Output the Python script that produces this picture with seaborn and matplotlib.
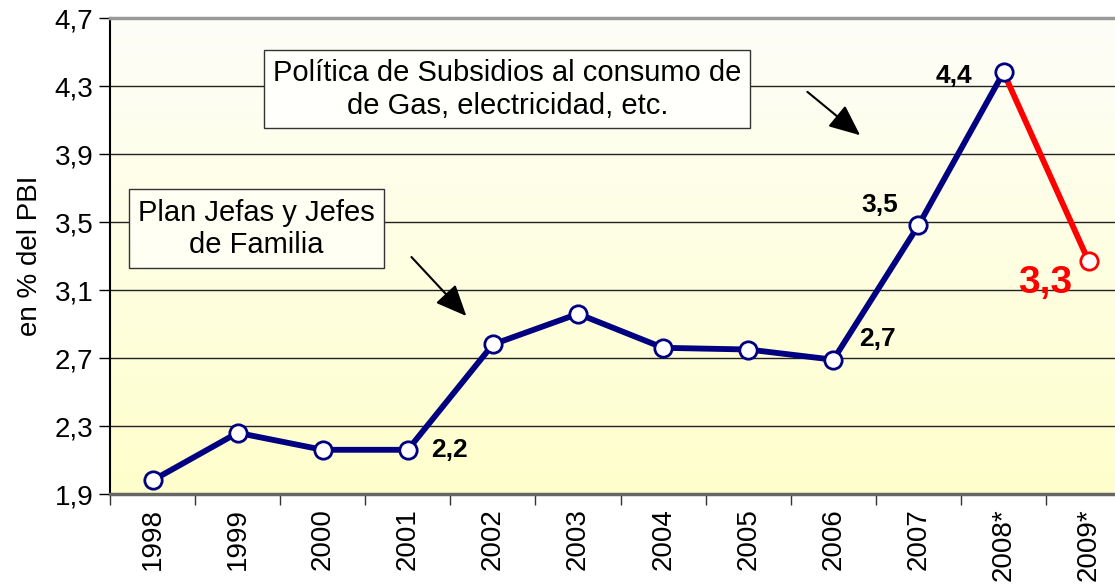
import numpy as np
import pandas as pd
import matplotlib
matplotlib.use("Agg")
import matplotlib.pyplot as plt
import seaborn as sns

# Data
years = ["1998", "1999", "2000", "2001", "2002", "2003", "2004",
         "2005", "2006", "2007", "2008*", "2009*"]
values = [1.98, 2.26, 2.16, 2.16, 2.78, 2.96, 2.76, 2.75, 2.69, 3.48, 4.38, 3.27]
y_ticks = [1.9, 2.3, 2.7, 3.1, 3.5, 3.9, 4.3, 4.7]
label_years = ["2001", "2006", "2007", "2008*", "2009*"]
label_texts = ["2,2", "2,7", "3,5", "4,4", "3,3"]

sns.set_theme(style="white")
plt.rcParams["font.family"] = ["Liberation Sans", "DejaVu Sans"]
plt.rcParams["text.color"] = "black"
plt.rcParams["axes.labelcolor"] = "black"
plt.rcParams["xtick.color"] = "black"
plt.rcParams["ytick.color"] = "black"

df = pd.DataFrame({"year": years, "value": values})
df["pos"] = np.arange(len(df))
actual = df.iloc[:11]
forecast = df.iloc[10:]

fig = plt.figure(figsize=(11.15, 5.87), dpi=100)
ax = fig.add_axes([110 / 1115, 1 - 494 / 587, 1 - 110 / 1115, (494 - 18) / 587])

# gradient background (white at top -> light yellow at bottom)
grad = np.linspace(0, 1, 256).reshape(-1, 1)
top = np.array([0.995, 0.995, 0.975])
bottom = np.array([1.0, 1.0, 0.80])
img = top + (bottom - top) * grad[:, :, None]
ax.imshow(img, extent=[0, 1, 0, 1], transform=ax.transAxes, aspect="auto", zorder=0)

ax.set_ylim(1.9, 4.7)
ax.set_xlim(-0.5, 11.31)

for yv in y_ticks[1:-1]:
    ax.axhline(yv, color="#222222", linewidth=1.0, zorder=1)

sns.lineplot(data=actual, x="pos", y="value", ax=ax, color="#000080",
             linewidth=4.2, marker="o", markersize=12.5, markerfacecolor="white",
             markeredgecolor="#000080", markeredgewidth=2.0, zorder=4)
sns.lineplot(data=forecast, x="pos", y="value", ax=ax, color="#FF0000",
             linewidth=4.2, zorder=3)
sns.lineplot(data=df.iloc[11:], x="pos", y="value", ax=ax, color="#FF0000",
             linewidth=0, marker="o", markersize=12.5, markerfacecolor="white",
             markeredgecolor="#FF0000", markeredgewidth=2.0, zorder=5)

# axes styling
ax.set_yticks(y_ticks)
ax.set_yticklabels([f"{v:.1f}".replace(".", ",") for v in y_ticks], fontsize=20)
ax.set_xticks(df["pos"])
ax.set_xticklabels(years, rotation=90, fontsize=20)
ax.set_xticks(np.arange(-0.5, 11.5, 1.0), minor=True)
ax.tick_params(axis="x", which="major", length=0, pad=10)
ax.tick_params(axis="x", which="minor", length=8, width=1, color="#333333",
               direction="out", bottom=True)
ax.tick_params(axis="y", length=8, width=1, color="black", direction="out", left=True, pad=4)
ax.set_xlabel("")
ax.set_ylabel("en % del PBI", fontsize=20, labelpad=8)

ax.spines["right"].set_visible(False)
ax.spines["left"].set_color("black")
ax.spines["left"].set_linewidth(1.5)
ax.spines["top"].set_color("#999999")
ax.spines["top"].set_linewidth(2.5)
ax.spines["bottom"].set_color("#666666")
ax.spines["bottom"].set_linewidth(2.5)

# value labels
pos_of = dict(zip(years, df["pos"]))
val_of = dict(zip(years, values))
offsets = {"2001": (0.27, 0.0, "left"),
           "2006": (0.3, 0.12, "left"),
           "2007": (-0.24, 0.12, "right"),
           "2008*": (-0.37, -0.02, "right"),
           "2009*": (-0.51, -0.13, "center")}
for yr, txt in zip(label_years, label_texts):
    dx, dy, ha = offsets[yr]
    red = yr == "2009*"
    ax.text(pos_of[yr] + dx, val_of[yr] + dy, txt, ha=ha, va="center",
            fontsize=28 if red else 19, fontweight="bold",
            color="#FF0000" if red else "black", zorder=6)

# annotation boxes
ax.text(4.17, 4.28, "Política de Subsidios al consumo de\nde Gas, electricidad, etc.",
        ha="center", va="center", multialignment="center", fontsize=21, linespacing=1.2,
        bbox=dict(boxstyle="square,pad=0.3", facecolor="#FFFFFB", edgecolor="#333333", linewidth=1))
ax.text(1.22, 3.46, "Plan Jefas y Jefes\nde Familia", ha="center", va="center",
        multialignment="center", fontsize=21, linespacing=1.2,
        bbox=dict(boxstyle="square,pad=0.32", facecolor="#FFFFF4", edgecolor="#333333", linewidth=1))

arrow_kw = dict(arrowstyle="-|>,head_length=1.6,head_width=0.7", color="black", linewidth=1.5)
ax.annotate("", xy=(3.71, 2.935), xytext=(3.02, 3.306), arrowprops=arrow_kw, zorder=6)
ax.annotate("", xy=(8.34, 4.0), xytext=(7.67, 4.276), arrowprops=arrow_kw, zorder=6)

fig.savefig("out.png", dpi=100)
